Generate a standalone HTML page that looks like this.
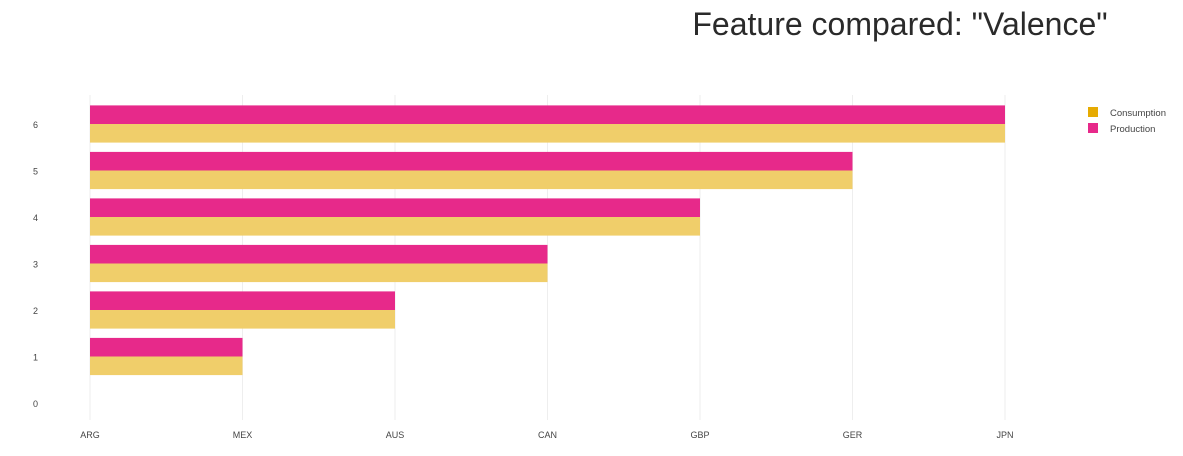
<!DOCTYPE html>
<html><head><meta charset="utf-8"><style>
body{margin:0;background:#fff;font-family:"Liberation Sans",Arial,sans-serif}
svg text{font-family:"Liberation Sans",Arial,sans-serif}
</style></head><body>
<svg id="chart" width="1183" height="451" xmlns="http://www.w3.org/2000/svg">
<text x="900" y="35" text-anchor="middle" font-size="32" fill="#2a2a2a">Feature compared: "Valence"</text>
<g id="grid"></g><g id="bars"></g><g id="axes"></g>
<g>
<rect x="1088" y="107" width="10" height="10" fill="#e6ab02"/>
<text x="1110" y="116" font-size="9.5" fill="#444">Consumption</text>
<rect x="1088" y="123" width="10" height="10" fill="#e7298a"/>
<text x="1110" y="132" font-size="9.5" fill="#444">Production</text>
</g>
</svg>
<script>
const categories=["ARG","MEX","AUS","CAN","GBP","GER","JPN"];
const yTicks=[0,1,2,3,4,5,6];
const yValues=[1,2,3,4,5,6];
const consumption=["MEX","AUS","CAN","GBP","GER","JPN"];
const production=["MEX","AUS","CAN","GBP","GER","JPN"];
const NS="http://www.w3.org/2000/svg";
const xScale=c=>90+categories.indexOf(c)*152.5;
const yScale=v=>403-v*46.5;
const grid=document.getElementById('grid'),bars=document.getElementById('bars'),axes=document.getElementById('axes');
function mk(tag,attrs,parent){const e=document.createElementNS(NS,tag);for(const k in attrs)e.setAttribute(k,attrs[k]);parent.appendChild(e);return e;}
categories.forEach(c=>{
 const l=mk('line',{x1:xScale(c),x2:xScale(c),y1:95,y2:420,stroke:'#eeeeee'},grid);
 
 
 const t=mk('text',{x:xScale(c),y:438,'text-anchor':'middle','font-size':9,fill:'#444'},axes);
 t.textContent=c;
 
 
});
yTicks.forEach(v=>{
 const t=mk('text',{x:38,y:yScale(v)+4,'text-anchor':'end','font-size':9,fill:'#444'},axes);
 t.textContent=v;
 
 
});
const bw=18.6;
yValues.forEach((y,i)=>{
 const x0=xScale(categories[0]);
 const p=mk('rect',{x:x0,y:yScale(y)-bw,width:xScale(production[i])-x0,height:bw,fill:'#e7298a'},bars);
 
 
 const c=mk('rect',{x:x0,y:yScale(y),width:xScale(consumption[i])-x0,height:bw,fill:'#f0ce6a'},bars);
 
 
});
</script>
</body></html>
